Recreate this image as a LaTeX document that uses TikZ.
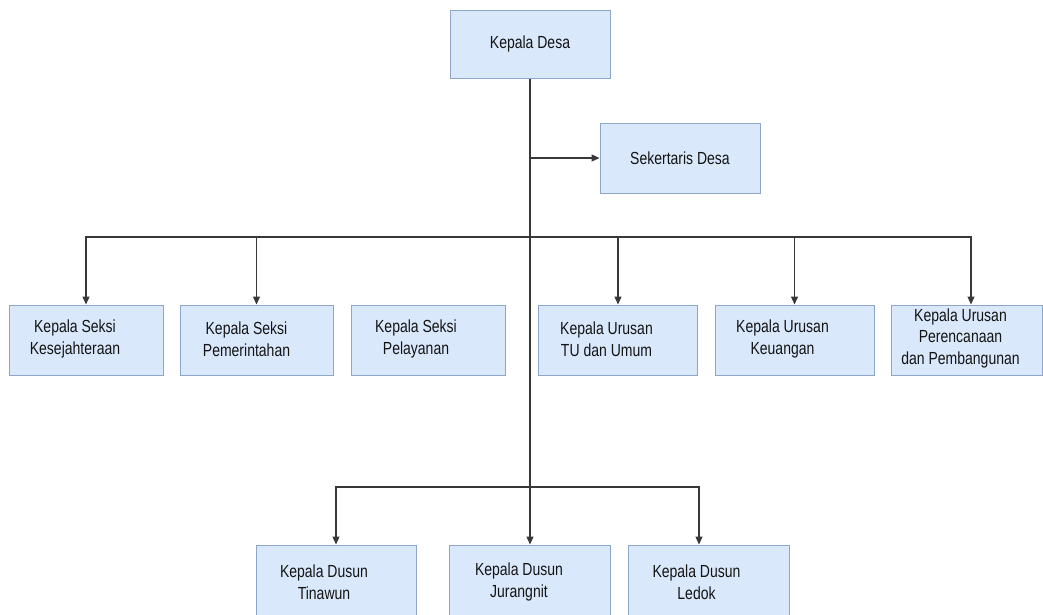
\documentclass[tikz,border=0pt]{standalone}
\usepackage{fontspec}
\newfontfamily\narrowfont[FakeStretch=0.8]{Liberation Sans}
\usetikzlibrary{arrows.meta}
\definecolor{boxfill}{HTML}{DAE8FC}
\definecolor{boxline}{HTML}{8FA6CC}
\begin{document}
\begin{tikzpicture}[x=1pt,y=-1pt,
  box/.style={draw=boxline,fill=boxfill,line width=1pt,minimum height=70pt,inner sep=0pt},
  lbl/.style={font=\narrowfont\fontsize{17.5}{21.5}\selectfont,align=center,inner sep=0pt,text=black!92},
  link/.style={draw=black!78,line width=1.3pt},
  arr/.style={link,-{Triangle[length=8pt,width=7pt]}}]
\useasboundingbox (0,0) rectangle (1043,614);
% top
\node[box,minimum width=160pt,minimum height=68pt] (kd) at (530,44) {};
\node[lbl] (tkd) at (kd.center) {Kepala Desa};
\node[box,minimum width=160pt] (sek) at (680,158) {};
\node[lbl] (tsek) at (sek.center) {Sekertaris Desa};
% row 2
\node[box,minimum width=154pt] (b1) at (86,340) {};
\node[box,minimum width=153pt] (b2) at (256.5,340) {};
\node[box,minimum width=154pt] (b3) at (428,340) {};
\node[box,minimum width=159pt] (b4) at (617.5,340) {};
\node[box,minimum width=159pt] (b5) at (794.5,340) {};
\node[box,minimum width=151pt] (b6) at (966.5,340) {};
\node[lbl] (t1) at ([xshift=-11pt,yshift=1pt]b1.center) {Kepala Seksi\\Kesejahteraan};
\node[lbl] (t2) at ([xshift=-10pt,yshift=1pt]b2.center) {Kepala Seksi\\Pemerintahan};
\node[lbl] (t3) at ([xshift=-12pt,yshift=1pt]b3.center) {Kepala Seksi\\Pelayanan};
\node[lbl] (t4) at ([xshift=-11pt,yshift=1pt]b4.center) {Kepala Urusan\\TU dan Umum};
\node[lbl] (t5) at ([xshift=-12pt,yshift=1pt]b5.center) {Kepala Urusan\\Keuangan};
\node[lbl] (t6) at ([xshift=-6pt,yshift=2pt]b6.center) {Kepala Urusan\\Perencanaan\\dan Pembangunan};
% bottom
\node[box,minimum width=160pt] (d1) at (336,580) {};
\node[box,minimum width=161pt] (d2) at (530,580) {};
\node[box,minimum width=161pt] (d3) at (708.5,580) {};
\node[lbl] (td1) at ([xshift=-12pt,yshift=-2pt]d1.center) {Kepala Dusun\\Tinawun};
\node[lbl] (td2) at ([xshift=-11pt,yshift=-2pt]d2.center) {Kepala Dusun\\Jurangnit};
\node[lbl] (td3) at ([xshift=-12pt,yshift=-2pt]d3.center) {Kepala Dusun\\Ledok};
% junctions
\coordinate (j1) at (530,158);
\coordinate (j2) at (530,237);
\coordinate (j3) at (530,487);
% connectors
\draw[link] (kd.south) -- (j3);
\draw[arr] (j1) -- (sek.west);
\draw[arr] (j2) -| (b1.north);
\draw[arr] (j2) -| (b2.north);
\draw[arr] (j2) -| ([xshift=0.5pt]b4.north);
\draw[arr] (j2) -| (b5.north);
\draw[arr] (j2) -| ([xshift=4.5pt]b6.north);
\draw[arr] (j3) -| (d1.north);
\draw[arr] (j3) -- (d2.north);
\draw[arr] (j3) -| ([xshift=-9.5pt]d3.north);
\end{tikzpicture}
\end{document}
